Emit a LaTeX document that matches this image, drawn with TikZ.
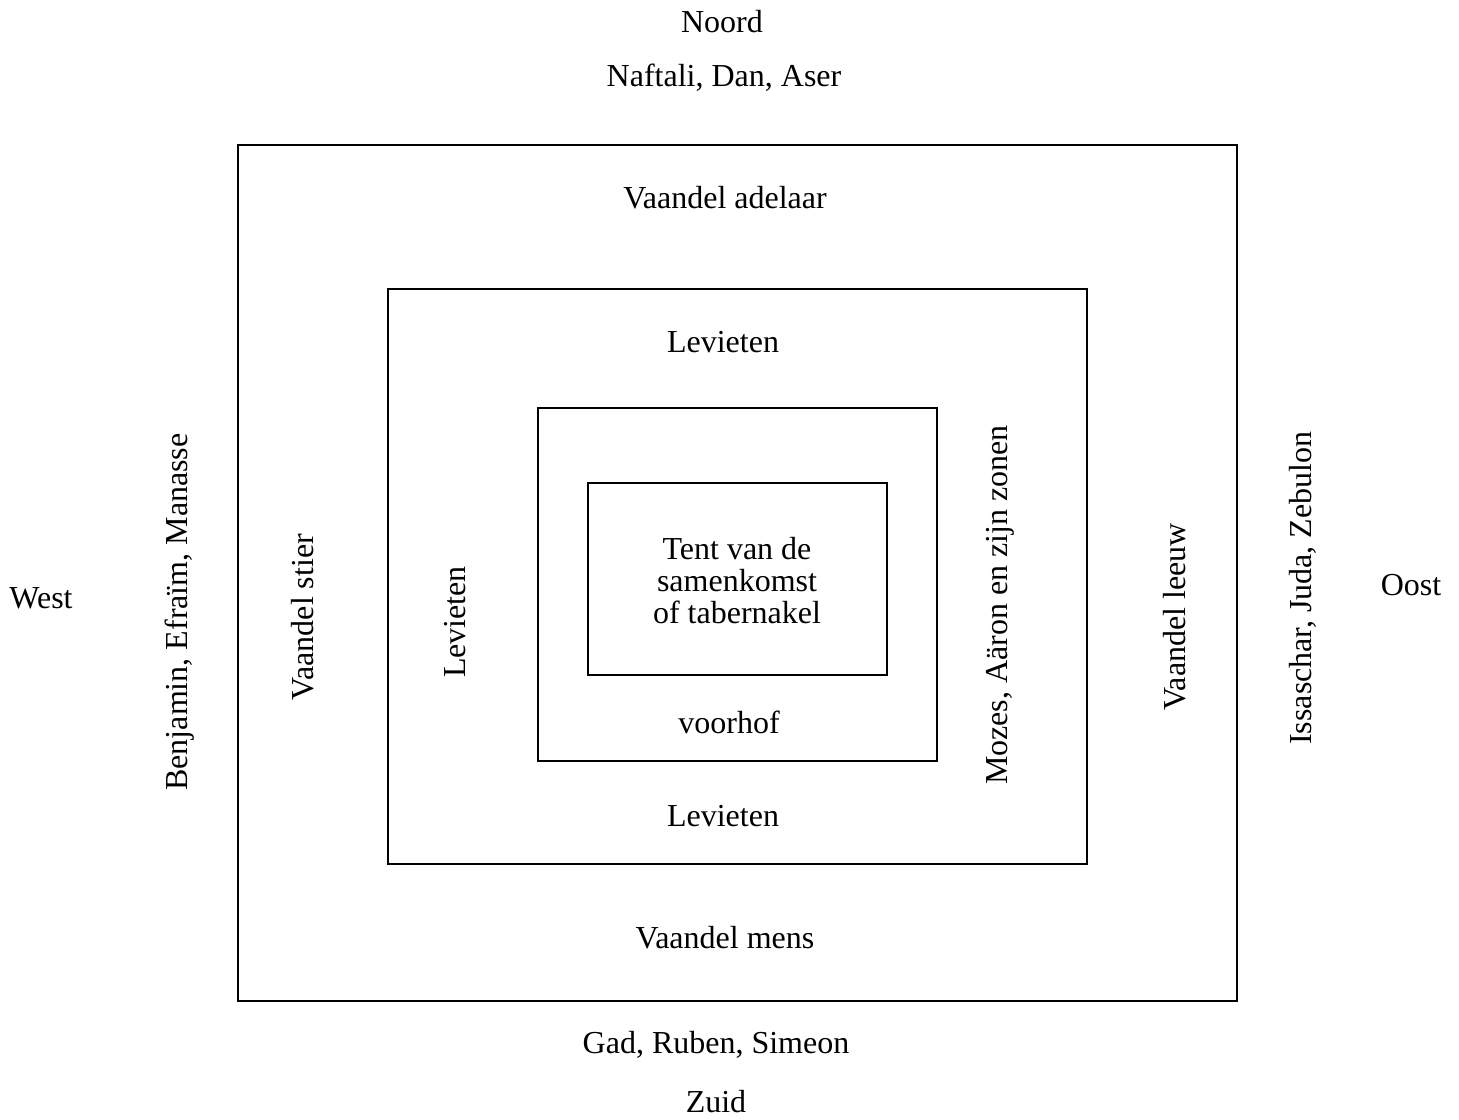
\documentclass[tikz,border=0pt]{standalone}
\usepackage{fontspec}
\setmainfont{Liberation Serif}
\begin{document}
\begin{tikzpicture}[x=0.5pt,y=-0.5pt,
  box/.style={draw=black,line width=0.75pt},
  lbl/.style={font=\fontsize{16}{16}\selectfont,inner sep=0pt,align=center},
  vlbl/.style={lbl,rotate=90}]
\useasboundingbox (0,0) rectangle (1459,1119);
\draw[box] (238,145) rectangle (1237,1001);
\draw[box] (388,289) rectangle (1087,864);
\draw[box] (538,408) rectangle (937,761);
\draw[box] (588,483) rectangle (887,675);
\node[lbl] (noord) at (722,22) {Noord};
\node[lbl] (ndn) at (724,78) {Naftali, Dan, Aser};
\node[lbl] (adel) at (725,198) {Vaandel adelaar};
\node[lbl] (lev1) at (723,342) {Levieten};
\node[lbl] (tent) at (737,581) {Tent van de\\samenkomst\\of tabernakel};
\node[lbl] (voor) at (729,722) {voorhof};
\node[lbl] (lev2) at (723,816) {Levieten};
\node[lbl] (mens) at (725,938) {Vaandel mens};
\node[lbl] (grs) at (716,1045) {Gad, Ruben, Simeon};
\node[lbl] (zuid) at (716,1102) {Zuid};
\node[lbl] (west) at (41,598) {West};
\node[lbl] (oost) at (1411,585) {Oost};
\node[vlbl] (bem) at (180,612) {Benjamin, Efraïm, Manasse};
\node[vlbl] (stier) at (303,617) {Vaandel stier};
\node[vlbl] (lev3) at (455,622) {Levieten};
\node[vlbl] (moz) at (1000,605) {Mozes, Aäron en zijn zonen};
\node[vlbl] (leeuw) at (1175,617) {Vaandel leeuw};
\node[vlbl] (ijz) at (1303,588) {Issaschar, Juda, Zebulon};
\end{tikzpicture}
\end{document}
